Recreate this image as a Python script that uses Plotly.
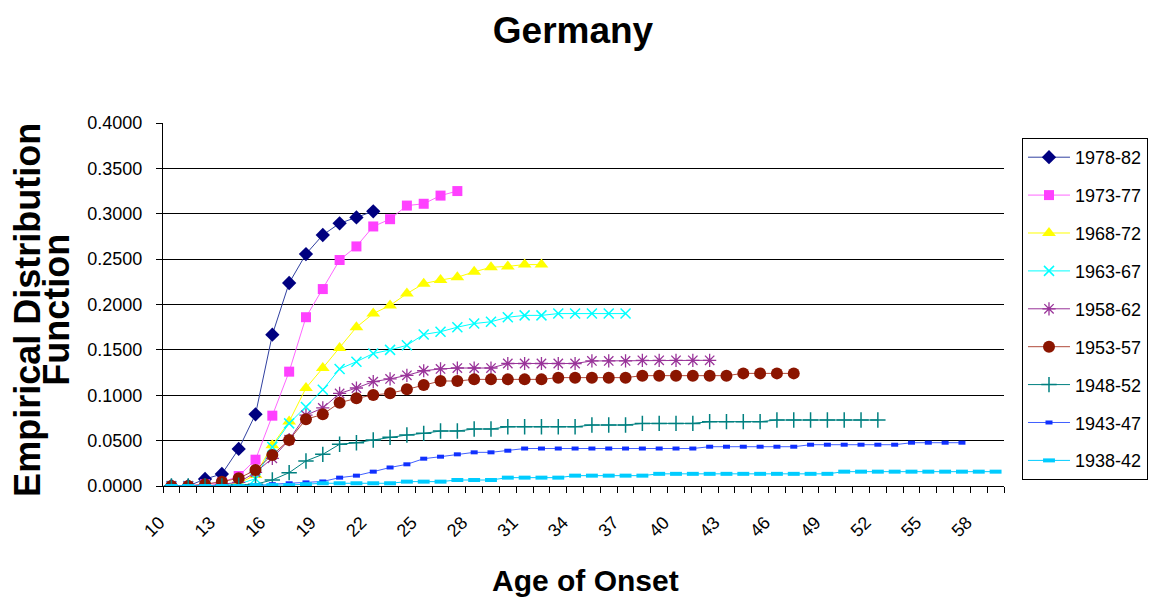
import plotly.graph_objects as go

ages_start = 10
tick_labels = [str(a) for a in range(10, 59, 3)]

s1978_82 = [0, 0, 0.0077, 0.0132, 0.0408, 0.079, 0.1667, 0.2237, 0.2556, 0.2766, 0.2894, 0.296, 0.3027]
s1973_77 = [0, 0, 0.002, 0.004, 0.011, 0.029, 0.0775, 0.126, 0.186, 0.217, 0.249, 0.264, 0.286, 0.294,
            0.309, 0.311, 0.320, 0.325]
s1968_72 = [0, 0, 0, 0.001, 0.003, 0.012, 0.045, 0.071, 0.108, 0.130, 0.152, 0.175, 0.190, 0.199,
            0.212, 0.223, 0.227, 0.230, 0.236, 0.241, 0.242, 0.244, 0.244]
s1963_67 = [0, 0, 0, 0.001, 0.002, 0.008, 0.043, 0.069, 0.087, 0.106, 0.129, 0.137, 0.146, 0.150,
            0.155, 0.167, 0.170, 0.175, 0.179, 0.181, 0.186, 0.188, 0.188, 0.190, 0.190, 0.190, 0.190, 0.190]
s1958_62 = [0, 0, 0, 0.002, 0.004, 0.015, 0.0305, 0.051, 0.078, 0.086, 0.102, 0.108, 0.115, 0.118,
            0.122, 0.127, 0.129, 0.130, 0.130, 0.130, 0.135, 0.135, 0.135, 0.135, 0.135, 0.1378, 0.1378,
            0.1378, 0.1385, 0.1385, 0.1385, 0.1385, 0.1385]
s1953_57 = [0, 0, 0.002, 0.0048, 0.0085, 0.0176, 0.0342, 0.0507, 0.0735, 0.079, 0.0918, 0.0966, 0.1003,
            0.1021, 0.1065, 0.1113, 0.1157, 0.1157, 0.1175, 0.1175, 0.1175, 0.1175, 0.1175, 0.1194,
            0.1194, 0.1194, 0.1194, 0.1194, 0.1216, 0.1216, 0.1216, 0.1216, 0.1216, 0.1216, 0.1241,
            0.1241, 0.1241, 0.1241]
s1948_52 = [0, 0, 0, 0, 0.001, 0.002, 0.0066, 0.0147, 0.0276, 0.0349, 0.046, 0.0477, 0.0507, 0.0536,
            0.0562, 0.058, 0.0606, 0.0606, 0.0628, 0.0628, 0.0653, 0.0653, 0.0653, 0.0653, 0.0653,
            0.0672, 0.0672, 0.0672, 0.069, 0.069, 0.069, 0.069, 0.0709, 0.0709, 0.0709, 0.0709,
            0.0727, 0.0727, 0.0727, 0.0727, 0.0727, 0.0727, 0.0727]
s1943_47 = [0, 0, 0, 0, 0, 0, 0.002, 0.003, 0.004, 0.005, 0.0092, 0.0114, 0.0158, 0.0204, 0.0239,
            0.0301, 0.0323, 0.0349, 0.0371, 0.0371, 0.0389, 0.0413, 0.0413, 0.0413, 0.0413, 0.0413,
            0.0413, 0.0413, 0.0413, 0.0413, 0.0413, 0.0413, 0.0433, 0.0433, 0.0433, 0.0433, 0.0433,
            0.0433, 0.0455, 0.0455, 0.0455, 0.0455, 0.0455, 0.0455, 0.0477, 0.0477, 0.0477, 0.0477]
s1938_42 = [0, 0, 0, 0, 0, 0.001, 0.001, 0.001, 0.002, 0.003, 0.003, 0.003, 0.003, 0.003, 0.0048,
            0.0048, 0.0048, 0.0066, 0.0066, 0.0066, 0.0092, 0.0092, 0.0092, 0.0092, 0.0114, 0.0114,
            0.0114, 0.0114, 0.0114, 0.0134, 0.0134, 0.0134, 0.0134, 0.0134, 0.0134, 0.0134, 0.0134,
            0.0134, 0.0134, 0.0134, 0.0158, 0.0158, 0.0158, 0.0158, 0.0158, 0.0158, 0.0158, 0.0158,
            0.0158, 0.0158]

series = [
    ("1978-82", s1978_82, dict(symbol="diamond", size=11, color="#000080"), "#3040a0"),
    ("1973-77", s1973_77, dict(symbol="square", size=10, color="#FF40FF"), "#FF66FF"),
    ("1968-72", s1968_72, dict(symbol="triangle-up", size=12, color="#FFFF00"), "#FFFF00"),
    ("1963-67", s1963_67, dict(symbol="x-thin-open", size=10, color="#00FFFF",
                               line=dict(width=1.5, color="#00FFFF")), "#00FFFF"),
    ("1958-62", s1958_62, dict(symbol="asterisk-open", size=11, color="#993399",
                               line=dict(width=1.3, color="#993399")), "#993399"),
    ("1953-57", s1953_57, dict(symbol="circle", size=12, color="#8B1500"), "#B04A3A"),
    ("1948-52", s1948_52, dict(symbol="cross-thin-open", size=11, color="#008080",
                               line=dict(width=1.5, color="#008080")), "#008080"),
    ("1943-47", s1943_47, dict(symbol="line-ew", size=5, color="#1030FF",
                               line=dict(width=4, color="#1030FF")), "#4060FF"),
    ("1938-42", s1938_42, dict(symbol="line-ew", size=8.5, color="#00CCFF",
                               line=dict(width=4, color="#00CCFF")), "#00CCFF"),
]

fig = go.Figure()
for name, vals, marker, lcolor in series:
    ages = list(range(ages_start, ages_start + len(vals)))
    fig.add_trace(go.Scatter(
        x=ages, y=vals, name=name, mode="lines+markers",
        line=dict(color=lcolor, width=1), marker=marker,
        legendgroup=name,
    ))

font_family = "Liberation Sans, Arial, sans-serif"

# page body has an 8px margin, so the figure is drawn 8px smaller and offset
fig.update_layout(
    width=1152, height=595,
    margin=dict(l=155, r=154, t=115, b=117),
    paper_bgcolor="white", plot_bgcolor="white",
    font=dict(family=font_family, color="black"),
    title=dict(text="<b>Germany</b>", x=565 / 1152, xanchor="center", y=1 - 9 / 595, yanchor="top",
               font=dict(size=37, family=font_family, color="black")),
    legend=dict(x=1.0214, xanchor="left", y=0.9587, yanchor="top",
                bordercolor="black", borderwidth=1, bgcolor="white",
                font=dict(size=18, family=font_family, color="black"),
                traceorder="grouped", tracegroupgap=11.5, itemwidth=42),
    showlegend=True,
)

fig.update_xaxes(
    range=[9.5, 59.5],
    tickvals=[int(t) for t in tick_labels], ticktext=tick_labels,
    tickangle=-45, tickfont=dict(size=18, family=font_family, color="black"),
    ticks="outside", ticklen=6, tickcolor="rgba(0,0,0,0)",
    ticklabelshift=-12, ticklabelstandoff=12,
    minor=dict(ticks="outside", tick0=9.5, dtick=1, ticklen=6, tickcolor="black", showgrid=False),
    showgrid=False, zeroline=False, showline=True, linecolor="black", linewidth=1,
)
fig.update_yaxes(
    range=[0, 0.4], dtick=0.05, tickformat=".4f",
    tickfont=dict(size=18, family=font_family, color="black"),
    ticks="outside", ticklen=6, tickcolor="black", ticklabelstandoff=10,
    showgrid=True, gridcolor="black", gridwidth=1,
    zeroline=False, showline=True, linecolor="black", linewidth=1,
)

plot_left = 155
plot_w = 843
fig.add_annotation(text="<b>Empirical Distribution</b>", textangle=-90,
                   xref="paper", yref="paper", x=(-4 - plot_left) / plot_w, y=(486 - 310) / 363,
                   xanchor="left", yanchor="middle", showarrow=False,
                   font=dict(size=36, family=font_family, color="black"))
fig.add_annotation(text="<b>Function</b>", textangle=-90,
                   xref="paper", yref="paper", x=(25 - plot_left) / plot_w, y=(486 - 310) / 363,
                   xanchor="left", yanchor="middle", showarrow=False,
                   font=dict(size=36, family=font_family, color="black"))
fig.add_annotation(text="<b>Age of Onset</b>",
                   xref="paper", yref="paper", x=(586.5 - 163) / 843, y=(486 - 580) / 363,
                   xanchor="center", yanchor="middle", showarrow=False,
                   font=dict(size=30, family=font_family, color="black"))

fig.write_html("out.html")
